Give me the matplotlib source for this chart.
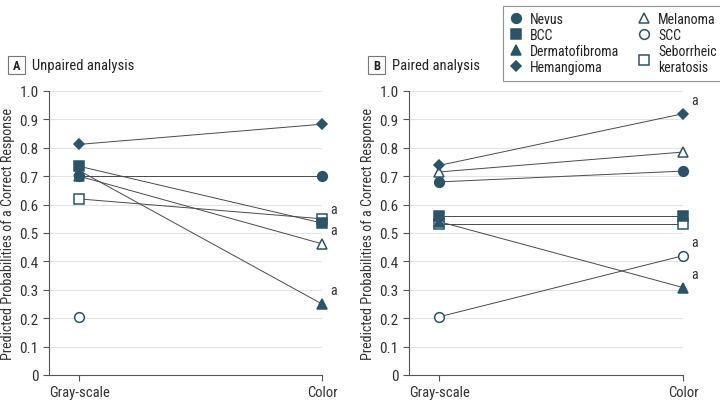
import matplotlib
matplotlib.use("Agg")
import matplotlib.pyplot as plt
from matplotlib.lines import Line2D
from matplotlib.patches import Rectangle

plt.rcParams['font.family'] = ['Roboto Condensed', 'Lato', 'DejaVu Sans']

conditions = ["Gray-scale", "Color"]
lesions = ["Nevus", "BCC", "Dermatofibroma", "Hemangioma", "Melanoma", "SCC", "Seborrheic\nkeratosis"]
markers = ["o", "s", "^", "D", "^", "o", "s"]
filled = [True, True, True, True, False, False, False]

# Panel A: unpaired analysis (None = not estimated)
unpaired_gray = [0.70, 0.735, 0.72, 0.812, 0.70, 0.205, 0.62]
unpaired_color = [0.70, 0.535, 0.25, 0.883, 0.462, None, 0.55]
unpaired_sig = [False, True, True, False, True, False, False]

# Panel B: paired analysis
paired_gray = [0.68, 0.56, 0.54, 0.738, 0.715, 0.205, 0.532]
paired_color = [0.718, 0.56, 0.308, 0.92, 0.785, 0.42, 0.532]
paired_sig = [False, False, True, True, False, True, False]

yticks = [0, 0.1, 0.2, 0.3, 0.4, 0.5, 0.6, 0.7, 0.8, 0.9, 1.0]
ytick_labels = ["0", "0.1", "0.2", "0.3", "0.4", "0.5", "0.6", "0.7", "0.8", "0.9", "1.0"]

COL = "#2b5468"
LINE = "#4a4a4a"
W, H = 720, 402
fig = plt.figure(figsize=(7.2, 4.02), dpi=100)


def make_axes(x0, x1, y_top, y_bot):
    return fig.add_axes([x0 / W, 1 - y_bot / H, (x1 - x0) / W, (y_bot - y_top) / H])


def mk_size(m):
    return {"o": 7, "s": 6.5, "^": 7, "D": 5.5}[m]


def draw_panel(ax, gray, color, sig, letter, title, lx, ty):
    ax.set_xlim(-0.124, 1.0)
    ax.set_ylim(0, 1.0)
    for y in yticks[1:]:
        ax.axhline(y, color="#e3e3e3", lw=0.8, zorder=0)
    for i in range(len(lesions)):
        g, c = gray[i], color[i]
        if g is not None and c is not None:
            ax.plot([0, 1], [g, c], color=LINE, lw=0.7, zorder=2, clip_on=False)
    for i in range(len(lesions)):
        kw = dict(marker=markers[i], ms=mk_size(markers[i]), mec=COL, mew=1.1, ls="none",
                  mfc=COL if filled[i] else "white", zorder=3 if not filled[i] else 4, clip_on=False)
        xs, ys = [], []
        if gray[i] is not None:
            xs.append(0); ys.append(gray[i])
        if color[i] is not None:
            xs.append(1); ys.append(color[i])
        ax.plot(xs, ys, **kw)
        if sig[i] and color[i] is not None:
            ax.annotate("a", (1, color[i]), xytext=(6, 5), textcoords="offset points",
                        fontsize=10, color="#333333", ha="left", va="bottom")
    ax.set_yticks(yticks)
    ax.set_yticklabels(ytick_labels, fontsize=11)
    ax.set_xticks([0, 1])
    ax.set_xticklabels(conditions, fontsize=10.5)
    ax.tick_params(axis="both", direction="out", length=4, width=0.8, colors="#555555", labelcolor="#333333")
    for s in ["top", "right"]:
        ax.spines[s].set_visible(False)
    for s in ["left", "bottom"]:
        ax.spines[s].set_color("#555555")
        ax.spines[s].set_linewidth(0.8)
    ax.set_ylabel("Predicted Probabilities of a Correct Response", fontsize=10.2, color="#333333", labelpad=3)
    # panel letter box
    fig.text((lx + 8.5) / W, 1 - ty / H, letter, fontsize=9, fontweight="bold", color="#222222",
             ha="center", va="center")
    fig.patches.append(Rectangle(((lx) / W, 1 - (ty + 9) / H), 17 / W, 18 / H,
                                 transform=fig.transFigure, fill=False, ec="#777777", lw=0.8))
    fig.text((lx + 24) / W, 1 - ty / H, title, fontsize=10.5, color="#222222", ha="left", va="center")


axA = make_axes(49, 322, 92, 376)
draw_panel(axA, unpaired_gray, unpaired_color, unpaired_sig, "A", "Unpaired analysis", 8, 66)
axB = make_axes(409, 683, 92, 376)
draw_panel(axB, paired_gray, paired_color, paired_sig, "B", "Paired analysis", 368, 66)

# legend
handles = []
for i in range(len(lesions)):
    handles.append(Line2D([], [], marker=markers[i], ls="none", ms=mk_size(markers[i]), mec=COL, mew=1.1,
                          mfc=COL if filled[i] else "white", label=lesions[i]))
leg = fig.legend(handles=handles, loc="upper left",
                 bbox_to_anchor=(500 / W, 1 - 4 / H), ncol=2, fontsize=10, frameon=True,
                 fancybox=False, edgecolor="#777777", handletextpad=0.5, columnspacing=1.3,
                 labelspacing=0.15, borderpad=0.45, handlelength=1.0, borderaxespad=0.2)
leg.get_frame().set_linewidth(0.8)
for t in leg.get_texts():
    t.set_color("#222222")

fig.savefig("out.png", dpi=100)
